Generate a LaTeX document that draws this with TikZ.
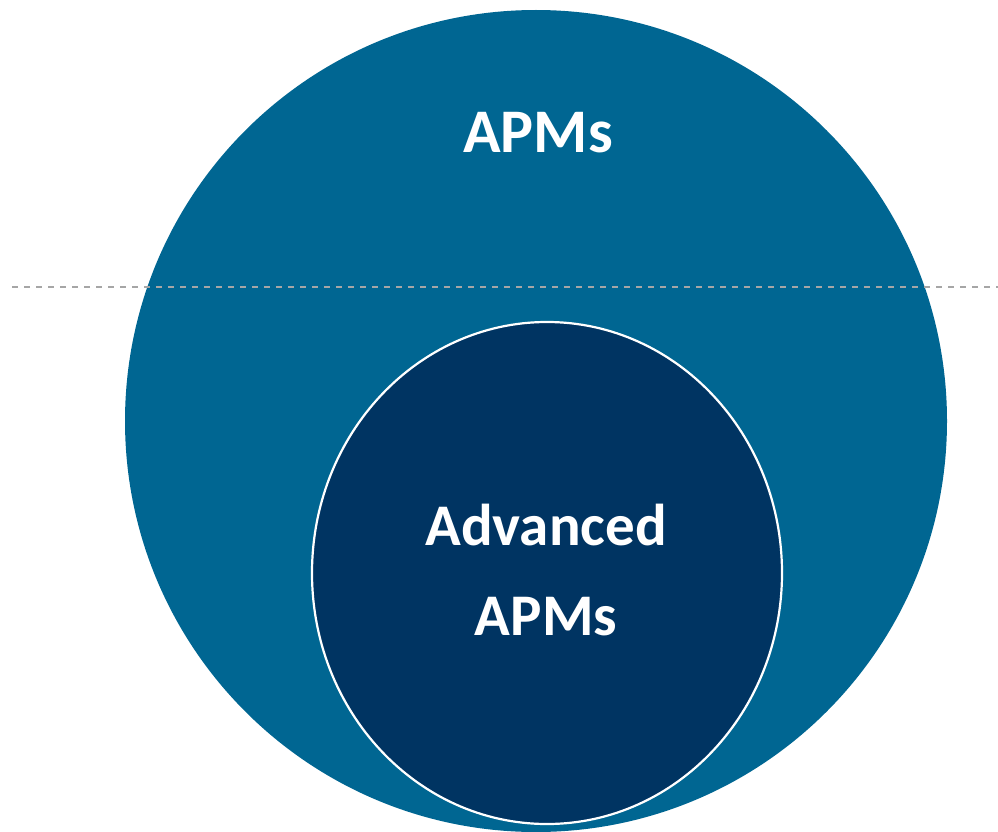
\documentclass[tikz,border=0pt]{standalone}
\usepackage{fontspec}
\setmainfont{Carlito}
\usepackage{xcolor}
\definecolor{cOuter}{HTML}{006692}
\definecolor{cInner}{HTML}{003462}
\definecolor{cDash}{HTML}{A6A6A6}
\usepackage{tikz}
\usetikzlibrary{shapes.geometric}
\tikzset{
  set-outer/.style={circle,fill=cOuter,draw=none,minimum size=822,inner sep=0},
  set-inner/.style={ellipse,fill=cInner,draw=white,line width=2.2,
    minimum width=470,minimum height=502,inner sep=0},
  set-label/.style={text=white,font=\bfseries,align=center,inner sep=0},
  split-line/.style={draw=cDash,line width=1.3,dash pattern=on 6 off 6},
}

\begin{document}
\begin{tikzpicture}[x=1pt,y=-1pt]
  \useasboundingbox (0,0) rectangle (998,832);
  \node[set-outer] (apms) at (536,421) {};
  \node[set-label,font=\bfseries\fontsize{62}{74}\selectfont,anchor=base]
    (apms-text) at (538,153) {APMs};
  % split line runs across the outer set
  \coordinate (split-l) at (12,287);
  \coordinate (split-r) at (998,287);
  \draw[split-line] (split-l) -- (split-r);
  \node[set-inner] (adv) at (547,573) {};
  \node[set-label,font=\bfseries\fontsize{59}{90}\selectfont]
    (adv-text) at (546,570) {Advanced\\APMs};
\end{tikzpicture}
\end{document}
